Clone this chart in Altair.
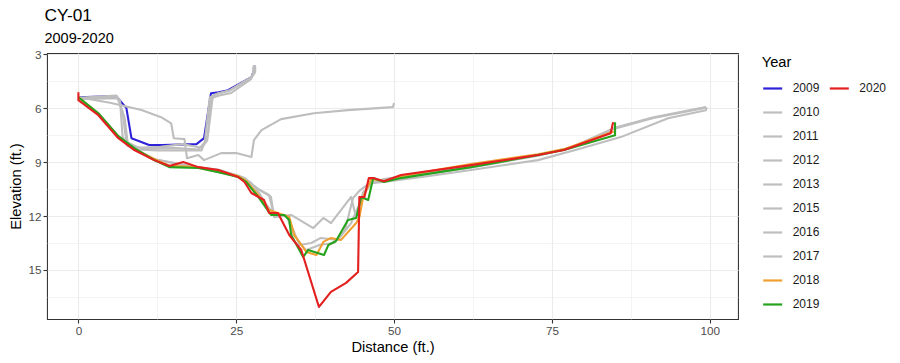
import altair as alt
import pandas as pd

FONT = "Liberation Sans"

years = ["2009", "2010", "2011", "2012", "2013", "2015", "2016", "2017", "2018", "2019", "2020"]
year_colors = ["#2e22d8", "#bebebe", "#bebebe", "#bebebe", "#bebebe", "#bebebe",
               "#bebebe", "#bebebe", "#f0a031", "#26a31c", "#e31f1f"]
legend_col = [0, 0, 0, 0, 0, 0, 0, 0, 0, 0, 1]
legend_row = [0, 1, 2, 3, 4, 5, 6, 7, 8, 9, 0]

x_ticks = [0, 12.5, 25, 37.5, 50, 62.5, 75, 87.5, 100]
y_ticks = [3, 4.5, 6, 7.5, 9, 10.5, 12, 13.5, 15, 16.5]

dist_2009 = [0, 6.0, 7.6, 8.4, 11.2, 13.3, 18.7, 19.9, 21.0, 22.2, 23.7, 27.4, 27.8, 27.9]
elev_2009 = [5.39, 5.33, 6.0, 7.67, 8.05, 8.05, 8.0, 7.67, 5.17, 5.11, 5.0, 4.28, 3.9, 3.62]

dist_2010 = [0, 6.0, 6.6, 7.0, 7.8, 11.0, 15.0, 19.0, 20.0, 20.8, 22.0, 23.8, 27.4, 27.8, 27.8]
elev_2010 = [5.42, 5.3, 5.6, 7.6, 8.1, 8.25, 8.2, 8.3, 7.9, 5.4, 5.2, 5.05, 4.3, 3.9, 3.6]

dist_2011 = [0, 6.1, 7.3, 7.8, 9.5, 13.0, 16.5, 18.0, 19.5, 20.4, 21.3, 22.3, 24.0, 27.5, 28.0, 28.0]
elev_2011 = [5.45, 5.35, 6.5, 7.9, 8.2, 8.15, 8.0, 8.1, 8.2, 7.8, 5.3, 5.15, 5.0, 4.25, 4.0, 3.65]

dist_2012 = [0, 6.3, 7.0, 7.6, 9.0, 12.5, 19.5, 20.5, 21.0, 22.3, 24.2, 27.3, 27.7, 27.7]
elev_2012 = [5.5, 5.45, 6.2, 7.9, 8.3, 8.35, 8.35, 7.5, 5.45, 5.3, 5.15, 4.4, 4.1, 3.7]

dist_2013 = [0, 5.0, 10.0, 13.1, 14.7, 15.1, 16.8, 17.2, 19.0, 19.9, 22.6, 25.0, 27.4, 27.8,
             29.0, 32.1, 37.3, 42.7, 49.8, 50.0]
elev_2013 = [5.39, 5.7, 6.1, 6.5, 6.85, 7.67, 7.72, 8.78, 8.61, 8.89, 8.5, 8.5, 8.72, 7.78,
             7.22, 6.61, 6.28, 6.11, 5.94, 5.72]

dist_2015 = [0, 3.2, 6.3, 8.9, 12.0, 14.4, 19.0, 22.2, 25.3, 26.3, 28.0, 30.5, 31.0, 33.7,
             37.2, 38.8, 40.0, 43.2, 44.0, 45.1, 46.4, 48.3, 55.0, 62.2, 72.8, 79.0, 85.9,
             93.4, 99.4, 99.5]
elev_2015 = [5.42, 6.3, 7.55, 8.25, 8.82, 9.2, 9.3, 9.42, 9.75, 9.89, 10.4, 10.94, 12.06, 11.94,
             12.67, 12.11, 12.39, 10.94, 12.11, 10.67, 10.17, 10.11, 9.8, 9.44, 8.89, 8.3, 7.61,
             6.56, 6.11, 5.95]

dist_2016 = [0, 3.2, 6.3, 8.9, 12.0, 19.0, 25.3, 26.3, 28.5, 30.2, 30.9, 33.2, 35.0, 36.9,
             38.4, 41.1, 43.2, 45.3, 46.4, 48.4, 62.2, 72.8, 78.0, 84.8, 91.1, 99.4]
elev_2016 = [5.4, 6.33, 7.6, 8.3, 8.85, 9.3, 9.8, 9.9, 10.5, 10.83, 11.83, 12.06, 13.61, 13.5,
             13.22, 13.33, 12.39, 10.72, 10.17, 9.94, 9.25, 8.63, 8.2, 7.11, 6.5, 5.94]

dist_2017 = [0, 3.2, 6.3, 8.9, 12.0, 19.0, 25.3, 27.2, 28.6, 29.6, 31.0, 33.0, 34.0, 36.0,
             38.3, 40.5, 42.2, 43.5, 44.5, 46.0, 48.4, 62.2, 72.8, 78.0, 84.9, 91.1, 99.4]
elev_2017 = [5.4, 6.35, 7.62, 8.3, 8.85, 9.3, 9.8, 10.1, 10.7, 11.3, 11.9, 12.0, 13.0, 13.9,
             13.6, 13.5, 12.8, 11.0, 10.6, 10.2, 10.0, 9.3, 8.65, 8.2, 7.15, 6.55, 5.97]

dist_2018 = [0, 3.16, 6.33, 8.86, 12.0, 14.4, 19.0, 22.2, 25.3, 26.6, 28.5, 30.2, 31.6, 33.4,
             34.2, 36.1, 37.7, 38.8, 40.0, 41.6, 44.0, 44.5, 45.1, 46.4, 48.4, 51.1, 62.2,
             72.8, 76.9, 84.8]
elev_2018 = [5.39, 6.33, 7.61, 8.28, 8.83, 9.2, 9.28, 9.5, 9.78, 10.05, 10.83, 11.67, 11.83, 12.06,
             13.06, 14.0, 14.17, 13.44, 13.22, 13.33, 12.39, 12.06, 10.94, 9.94, 10.06, 9.78, 9.11,
             8.56, 8.28, 7.3]

dist_2019 = [0, 3.16, 6.33, 8.86, 12.0, 14.4, 19.0, 22.2, 25.3, 26.6, 28.5, 30.5, 32.6, 33.4,
             33.7, 35.6, 36.4, 38.9, 39.6, 40.8, 42.7, 44.0, 44.8, 45.9, 46.7, 48.4, 51.1, 62.2,
             72.8, 76.9, 85.0, 85.0]
elev_2019 = [5.39, 6.28, 7.56, 8.22, 8.89, 9.28, 9.33, 9.56, 9.83, 10.11, 10.94, 11.94, 11.94, 12.22,
             13.06, 14.28, 13.89, 14.17, 13.61, 13.39, 12.22, 12.11, 10.94, 11.11, 9.89, 10.11, 9.89, 9.28,
             8.61, 8.33, 7.5, 6.78]

dist_2020 = [0, 0, 3.16, 6.33, 8.86, 12.0, 14.4, 16.6, 19.0, 22.2, 25.3, 26.3, 27.4, 29.4, 30.2,
             31.6, 33.4, 35.3, 38.1, 40.0, 42.4, 44.3, 44.5, 45.3, 46.0, 46.7, 48.4, 51.1, 62.2,
             72.8, 76.9, 84.3, 84.7]
elev_2020 = [5.11, 5.56, 6.39, 7.67, 8.33, 8.89, 9.22, 9.0, 9.28, 9.44, 9.83, 10.11, 10.72, 11.11, 11.83,
             11.83, 13.06, 13.89, 17.06, 16.22, 15.72, 15.11, 10.94, 10.94, 9.89, 9.89, 10.06, 9.72, 9.17,
             8.61, 8.33, 7.39, 6.78]

series = {
    "2009": (dist_2009, elev_2009), "2010": (dist_2010, elev_2010),
    "2011": (dist_2011, elev_2011), "2012": (dist_2012, elev_2012),
    "2013": (dist_2013, elev_2013), "2015": (dist_2015, elev_2015),
    "2016": (dist_2016, elev_2016), "2017": (dist_2017, elev_2017),
    "2018": (dist_2018, elev_2018), "2019": (dist_2019, elev_2019),
    "2020": (dist_2020, elev_2020),
}

rows = []
for yr in years:
    d, e = series[yr]
    for i, (dx, ev) in enumerate(zip(d, e)):
        rows.append({"year": yr, "dist": dx, "elev": ev, "i": i})
df = pd.DataFrame(rows)

W, H = 691, 266
xscale = alt.Scale(domain=[-4.975, 104.475], nice=False, zero=False)
yscale = alt.Scale(domain=[2.93, 17.73], nice=False, zero=False, reverse=True)

x_major = "datum.value % 25 === 0"
y_major = "datum.value % 3 === 0"

def axis_common(test):
    return dict(
        domain=False, grid=True, gridColor="#ebebeb",
        gridWidth={"condition": {"test": test, "value": 1.1}, "value": 0.55},
        tickColor={"condition": {"test": test, "value": "#333333"}, "value": "rgba(0,0,0,0)"},
        tickSize=4, tickWidth=1.1, labelPadding=2,
        labelFont=FONT, labelFontSize=11.7, labelColor="#4d4d4d",
        titleFont=FONT, titleFontSize=14.7, titleFontWeight="normal", titleColor="#000000",
        labelOverlap=False, labelFlush=False,
    )

xaxis = alt.Axis(values=x_ticks, title="Distance (ft.)",
                 labelExpr=f"{x_major} ? format(datum.value, 'd') : ''",
                 titlePadding=3, **axis_common(x_major))
yaxis = alt.Axis(values=y_ticks, title="Elevation (ft.)",
                 labelExpr=f"{y_major} ? format(datum.value, 'd') : ''",
                 titlePadding=4, **axis_common(y_major))

layers = []
for yr, col in zip(years, year_colors):
    layers.append(
        alt.Chart(df).transform_filter(alt.datum.year == yr)
        .mark_line(color=col, strokeWidth=2.1, strokeJoin="round", clip=True)
        .encode(
            x=alt.X("dist:Q", scale=xscale, axis=xaxis),
            y=alt.Y("elev:Q", scale=yscale, axis=yaxis),
            order=alt.Order("i:Q"),
        )
    )
main = alt.layer(*layers).properties(width=W, height=H)

leg_df = pd.DataFrame({"year": years, "hex": year_colors, "col": legend_col, "row": legend_row})
LW = 140
lx = alt.Scale(domain=[-0.2958, -0.2958 + LW / 66.6], nice=False, zero=False)
ly = alt.Scale(domain=[-1.479, -1.479 + H / 24.0], nice=False, zero=False, reverse=True)

sym = alt.Chart(leg_df).mark_point(shape="stroke", size=361, strokeWidth=2.2, filled=False, opacity=1).encode(
    x=alt.X("col:Q", scale=lx, axis=None),
    y=alt.Y("row:Q", scale=ly, axis=None),
    stroke=alt.Stroke("hex:N", scale=None),
)
txt = alt.Chart(leg_df).mark_text(align="left", baseline="middle", dx=20, font=FONT,
                                  fontSize=12, color="#1a1a1a").encode(
    x=alt.X("col:Q", scale=lx, axis=None),
    y=alt.Y("row:Q", scale=ly, axis=None),
    text="year:N",
)
ttl = alt.Chart(pd.DataFrame({"t": ["Year"]})).mark_text(
    align="left", baseline="middle", font=FONT, fontSize=14.7, color="#000000").encode(
    x=alt.value(8.7), y=alt.value(9.5), text="t:N")

legend = alt.layer(sym, txt, ttl).properties(
    width=LW, height=H, view=alt.ViewBackground(stroke="transparent"))

chart = alt.hconcat(main, legend, spacing=15, bounds="flush").properties(
    title=alt.TitleParams(text="CY-01", subtitle="2009-2020", anchor="start", dx=36,
                          font=FONT, fontSize=17.3, fontWeight="normal", color="#000000",
                          subtitleFont=FONT, subtitleFontSize=14.5, subtitleColor="#000000",
                          subtitlePadding=8, offset=3),
    padding={"left": 8, "top": 6, "right": 5, "bottom": 5},
).configure_view(stroke="#333333", strokeWidth=1.07)

chart.save("out.html", embed_options={"renderer": "svg", "actions": False})
